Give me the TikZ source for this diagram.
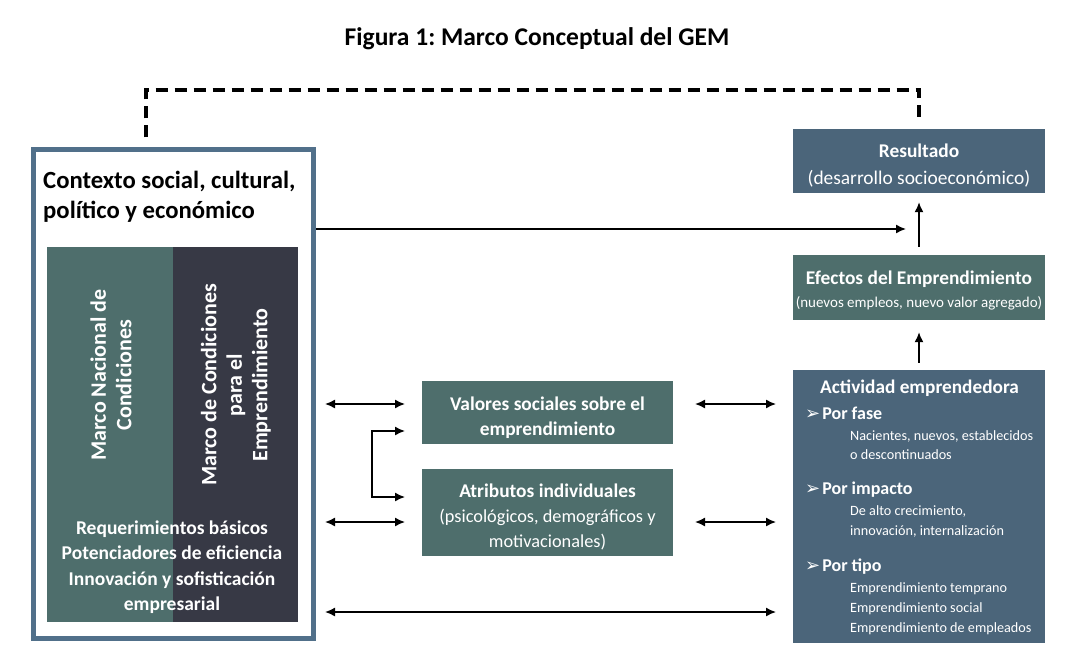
\documentclass[tikz,border=0pt]{standalone}
\usepackage{fontspec}
\setmainfont{Carlito}
\newfontfamily\dejavu{DejaVu Sans}
\usetikzlibrary{arrows.meta}
\definecolor{gemsteel}{HTML}{4B657A}
\definecolor{gemteal}{HTML}{4E6E6C}
\definecolor{gemdark}{HTML}{373945}
\definecolor{gemborder}{HTML}{51708A}
\newcommand\gemfs[2]{\fontsize{#1}{#2}\selectfont}
\newcommand\gembul{{\dejavu\gemfs{18}{18}\raisebox{0pt}{➢}}\hspace{2pt}}
\frenchspacing
\begin{document}
\begin{tikzpicture}[x=1pt,y=-1pt,
  box/.style={fill=#1, inner sep=0pt},
  panel/.style={fill=#1, inner sep=0pt, minimum height=375pt},
  wtext/.style={text=white, inner sep=0pt},
  arr/.style={line width=1.5pt, -{Latex[length=10pt,width=9pt]}},
  darr/.style={line width=1.5pt, {Latex[length=10pt,width=9pt]}-{Latex[length=10pt,width=9pt]}},
  gemdash/.style={line width=3.2pt, dash pattern=on 12pt off 7pt}
]
\useasboundingbox[fill=white] (0,0) rectangle (1068,666);

% title
\node[inner sep=0pt, font=\gemfs{25.5}{30}\bfseries] (title) at (537,39) {Figura 1: Marco Conceptual del GEM};

% context box
\node[draw=gemborder, line width=5pt, minimum width=280pt, minimum height=488pt, inner sep=0pt] (ctx) at (173,394) {};
\node[anchor=north west, inner sep=0pt, align=left, font=\gemfs{24.7}{30}\bfseries] (ctxt) at (43,171) {Contexto social, cultural,\\político y económico};

\node[panel=gemteal, minimum width=126pt] (mnc) at (110,434.5) {};
\node[panel=gemdark, minimum width=125pt] (mce) at (235.5,434.5) {};
\node[wtext, rotate=90, align=center, font=\gemfs{22}{25.5}\bfseries] (mnct) at (111,375) {Marco Nacional de\\Condiciones};
\node[wtext, rotate=90, align=center, font=\gemfs{22}{25.5}\bfseries] (mcet) at (236,385) {Marco de Condiciones\\para el\\Emprendimiento};
\node[wtext, align=center, font=\gemfs{19.5}{25.5}\bfseries] (req) at (172,567) {Requerimientos básicos\\Potenciadores de eficiencia\\Innovación y sofisticación\\empresarial};

% right column
\node[box=gemsteel, minimum width=252pt, minimum height=64pt] (res) at (919,161) {};
\node[wtext, align=center, font=\gemfs{19.4}{27}] (rest) at (919,165.5) {{\bfseries Resultado}\\(desarrollo socioeconómico)};
\node[box=gemteal, minimum width=252pt, minimum height=65pt] (efe) at (919,287.5) {};
\node[wtext, align=center, font=\gemfs{19.4}{23}] (efet) at (919,290) {{\bfseries Efectos del Emprendimiento}\\{\gemfs{15}{23}(nuevos empleos, nuevo valor agregado)}};
\node[box=gemsteel, minimum width=252pt, minimum height=273pt] (act) at (919,506.5) {};

\node[wtext, anchor=west, font=\gemfs{19.3}{22}\bfseries] (actt) at (820,388) {Actividad emprendedora};
\node[wtext, anchor=west, font=\gemfs{18}{21}\bfseries] (fase) at (805,413) {\gembul Por fase};
\node[wtext, anchor=west, align=left, font=\gemfs{14.2}{18.5}] (fases) at (850,445) {Nacientes, nuevos, establecidos\\o descontinuados};
\node[wtext, anchor=west, font=\gemfs{18}{21}\bfseries] (imp) at (805,490) {\gembul Por impacto};
\node[wtext, anchor=west, align=left, font=\gemfs{14.2}{20}] (imps) at (850,521.5) {De alto crecimiento,\\innovación, internalización};
\node[wtext, anchor=west, font=\gemfs{18}{21}\bfseries] (tipo) at (805,567) {\gembul Por tipo};
\node[wtext, anchor=west, align=left, font=\gemfs{14.2}{20}] (tipos) at (850,609) {Emprendimiento temprano\\Emprendimiento social\\Emprendimiento de empleados};

% middle boxes
\node[box=gemteal, minimum width=251pt, minimum height=63pt] (val) at (547.5,412.5) {};
\node[wtext, align=center, font=\gemfs{19.4}{25}\bfseries] (valt) at (547.5,417.5) {Valores sociales sobre el\\emprendimiento};
\node[box=gemteal, minimum width=251pt, minimum height=87pt] (atr) at (547.5,512.5) {};
\node[wtext, align=center, font=\gemfs{18.3}{25}] (atrt) at (547.5,516.5) {{\gemfs{19.4}{25}\bfseries Atributos individuales}\\(psicológicos, demográficos y\\motivacionales)};

% coordinates
\coordinate (dc) at (146,90);
\coordinate (ctxr) at (316,229);
\coordinate (resin) at (906,229);
\coordinate (l1a) at (325,404); \coordinate (l1b) at (405,404);
\coordinate (l2a) at (325,522); \coordinate (l2b) at (405,522);
\coordinate (r1a) at (695,404); \coordinate (r1b) at (776,404);
\coordinate (r2a) at (695,522); \coordinate (r2b) at (776,522);
\coordinate (ba) at (325,612); \coordinate (bb) at (776,612);
\coordinate (k1) at (405,431); \coordinate (k2) at (405,497);

% connectors
\draw[gemdash, shorten <=10pt, shorten >=6pt] (ctx.north -| dc) -- (dc) -| (res.north);
\draw[arr] (ctxr) -- (resin);
\draw[arr, shorten <=8pt, shorten >=9pt] (efe.north) -- (res.south);
\draw[arr, shorten <=7pt, shorten >=12pt] (act.north) -- (efe.south);
\draw[darr] (l1a) -- (l1b);
\draw[darr] (l2a) -- (l2b);
\draw[darr] (r1a) -- (r1b);
\draw[darr] (r2a) -- (r2b);
\draw[darr] (ba) -- (bb);
\draw[darr] (k1) -- ++(-33,0) |- (k2);
\end{tikzpicture}
\end{document}
